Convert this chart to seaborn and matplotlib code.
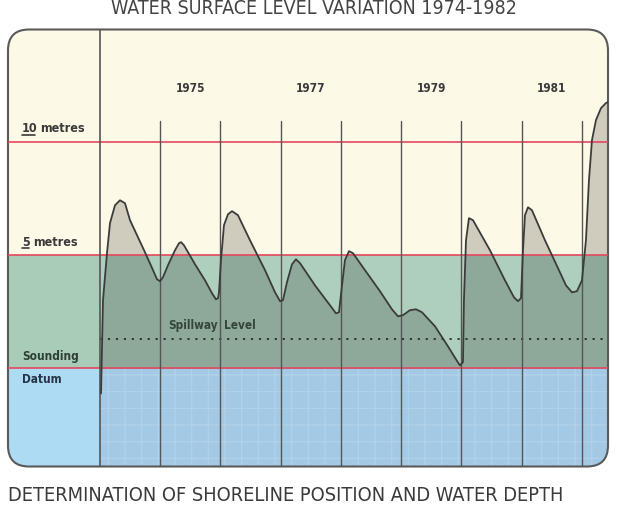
import numpy as np
import matplotlib
matplotlib.use('Agg')
import matplotlib.pyplot as plt
from matplotlib.patches import FancyBboxPatch
import seaborn as sns

# ------------------------------------------------------------
# data
# ------------------------------------------------------------
years = [1974.017, 1974.050, 1974.116, 1974.166, 1974.249, 1974.332, 1974.415, 1974.498, 1974.747, 1974.880,
         1974.946, 1974.996, 1975.046, 1975.129, 1975.245, 1975.311, 1975.344, 1975.394, 1975.577, 1975.743,
         1975.859, 1975.925, 1975.959, 1975.975, 1976.008, 1976.058, 1976.124, 1976.191, 1976.290, 1976.490,
         1976.739, 1976.905, 1976.988, 1977.037, 1977.104, 1977.187, 1977.253, 1977.320, 1977.568, 1977.817,
         1977.917, 1977.967, 1978.017, 1978.066, 1978.133, 1978.199, 1978.398, 1978.647, 1978.846, 1978.946,
         1979.029, 1979.145, 1979.245, 1979.344, 1979.560, 1979.776, 1979.909, 1979.975, 1980.025, 1980.041,
         1980.075, 1980.124, 1980.191, 1980.473, 1980.722, 1980.871, 1980.938, 1980.988, 1981.021, 1981.054,
         1981.104, 1981.170, 1981.386, 1981.602, 1981.734, 1981.834, 1981.917, 1982.000, 1982.066, 1982.116,
         1982.166, 1982.232, 1982.315, 1982.398, 1982.432]

level_m = [-1.11, 3.01, 5.09, 6.42, 7.21, 7.43, 7.30, 6.55, 5.13, 4.34,
           3.94, 3.85, 4.03, 4.56, 5.22, 5.53, 5.58, 5.44, 4.60, 3.89,
           3.32, 3.05, 3.10, 3.36, 4.78, 6.33, 6.81, 6.95, 6.77, 5.66,
           4.34, 3.36, 2.97, 3.01, 3.81, 4.60, 4.82, 4.65, 3.67, 2.79,
           2.43, 2.48, 3.67, 4.78, 5.18, 5.09, 4.34, 3.41, 2.61, 2.30,
           2.35, 2.57, 2.61, 2.48, 1.86, 0.97, 0.40, 0.13, 0.27, 3.01,
           5.66, 6.64, 6.55, 5.22, 3.89, 3.14, 2.97, 3.10, 5.22, 6.77,
           7.12, 6.99, 5.66, 4.43, 3.67, 3.36, 3.41, 3.89, 5.66, 8.32,
           10.09, 10.97, 11.50, 11.73, 11.77]

grid_years = [1975, 1976, 1977, 1978, 1979, 1980, 1981, 1982]
label_years = [1975, 1977, 1979, 1981]
level_lines = [10, 5, 0]
spillway_level = 1.28

# ------------------------------------------------------------
# style
# ------------------------------------------------------------
sns.set_theme(style='white')
plt.rcParams['font.family'] = ['DejaVu Sans']
plt.rcParams['font.stretch'] = 'condensed'
plt.rcParams['hatch.linewidth'] = 0.8

x0, x1 = 1972.473, 1982.432
y0, y1 = -4.34, 14.98
start = 1974

cream = '#fdf9e7'
green_left = '#a8ccb8'
green_in = '#aecfbd'
blue_left = '#addbf4'
blue_in = '#a4c9e5'
red = '#e5475d'
ink = '#3a3a3a'


def px_year(px):
    return start + (px - 100) / 60.25


fig = plt.figure(figsize=(6.29, 5.11), dpi=100)
ax = fig.add_axes([8 / 629, 44.5 / 511, 600 / 629, 437 / 511])
ax.set_xlim(x0, x1)
ax.set_ylim(y0, y1)
ax.set_axis_off()

# background bands
ax.fill_between([x0, x1], 5, y1, color=cream, lw=0)
ax.fill_between([x0, start], 0, 5, color=green_left, lw=0)
ax.fill_between([start, x1], 0, 5, color=green_in, lw=0)
ax.fill_between([x0, start], y0, 0, color=blue_left, lw=0)
ax.fill_between([start, x1], y0, 0, facecolor=blue_in, edgecolor='#b3d2ea', lw=0, hatch='+')

# area under the water level curve
ax.fill_between(years, 0, level_m, color='black', alpha=0.18, lw=0)

# level lines
for lv in level_lines:
    ax.axhline(lv, color=red, lw=1.2)

# spillway
ax.plot([start, x1], [spillway_level, spillway_level], color='#2a2a2a', lw=1.3,
        ls=(0, (1.2, 3.2)))

# year gridlines
for yr in grid_years:
    ax.plot([yr, yr], [y0, 10.93], color='#555555', lw=1.0)
ax.axvline(start, color='#555555', lw=1.2)

# curve
sns.lineplot(x=years, y=level_m, sort=False, estimator=None, color='#3b3b3b', lw=1.3, ax=ax)
if ax.get_legend():
    ax.get_legend().remove()

# rounded frame
r = 21 / 600
clip_box = FancyBboxPatch((0, 0), 1, 1, boxstyle=f'round,pad=0,rounding_size={r}',
                          mutation_aspect=600 / 437, transform=ax.transAxes,
                          facecolor='none', edgecolor='none')
for art in ax.collections + ax.lines + ax.patches:
    art.set_clip_path(clip_box)
frame = FancyBboxPatch((0, 0), 1, 1, boxstyle=f'round,pad=0,rounding_size={r}',
                       mutation_aspect=600 / 437, transform=ax.transAxes,
                       facecolor='none', edgecolor='#5a5a5a', lw=1.5, clip_on=False)
ax.add_patch(frame)

# labels
for yr in label_years:
    ax.text(yr + 0.5, 12.39, str(yr), ha='center', va='center', fontsize=8.5,
            color=ink, fontweight='bold')

lx = px_year(22)
ax.text(lx, 10.62, '10', ha='left', va='center', fontsize=9, color=ink, fontweight='bold')
ax.text(px_year(40), 10.62, 'metres', ha='left', va='center', fontsize=9,
        color=ink, fontweight='bold')
ax.plot([lx, px_year(35)], [10.33, 10.33], color=ink, lw=1.2, clip_on=False)

ax.text(lx, 5.58, '5', ha='left', va='center', fontsize=9, color=ink, fontweight='bold')
ax.text(px_year(33), 5.58, 'metres', ha='left', va='center', fontsize=9,
        color=ink, fontweight='bold')
ax.plot([lx, px_year(29)], [5.30, 5.30], color=ink, lw=1.2, clip_on=False)

ax.text(lx, 0.53, 'Sounding', ha='left', va='center', fontsize=8.5, color='#2f3f35',
        fontweight='bold')
ax.text(lx, -0.49, 'Datum', ha='left', va='center', fontsize=8.5, color='#243446',
        fontweight='bold')

ax.text(px_year(218), 1.90, 'Spillway', ha='right', va='center', fontsize=8.5,
        color='#34463b', fontweight='bold')
ax.text(px_year(224), 1.90, 'Level', ha='left', va='center', fontsize=8.5,
        color='#34463b', fontweight='bold')

title = fig.text(314 / 629, 1 - 8 / 511, 'WATER SURFACE LEVEL VARIATION 1974-1982', ha='center',
                 va='center', fontsize=14, color='#444444')
footer = fig.text(8 / 629, 1 - 495 / 511, 'DETERMINATION OF SHORELINE POSITION AND WATER DEPTH',
                  ha='left', va='center', fontsize=15, color='#3a3a3a')

# shrink the two headlines to the widths they have in the reference
renderer = fig.canvas.get_renderer()
for txt, target in [(title, 410), (footer, 557)]:
    w = txt.get_window_extent(renderer).width
    if w > target:
        txt.set_fontsize(txt.get_fontsize() * target / w)

fig.savefig('out.png', dpi=100, facecolor='white')
